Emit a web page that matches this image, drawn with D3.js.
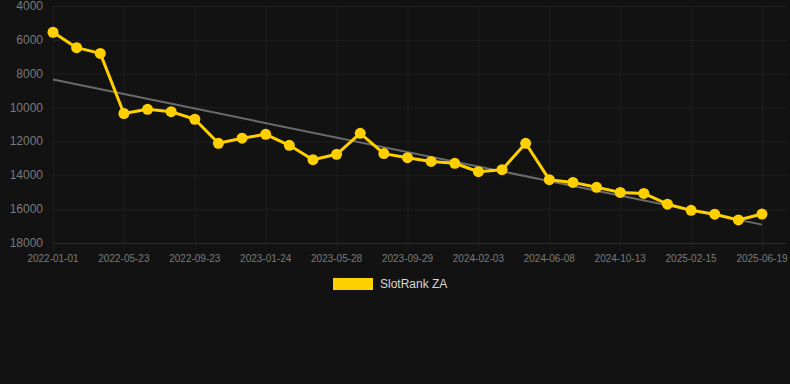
<!DOCTYPE html>
<html>
<head>
<meta charset="utf-8">
<script src="https://cdn.jsdelivr.net/npm/d3@7"></script>
<style>
  html, body { margin: 0; padding: 0; background: #121212; }
  svg { display: block; font-family: "Liberation Sans", Arial, sans-serif; }
</style>
</head>
<body>
<div id="chart"></div>
<script>
const width = 790, height = 384;

// data
const dates = [
    "2022-01-01", "2022-02-17", "2022-04-05", "2022-05-23", "2022-07-03", "2022-08-13",
    "2022-09-23", "2022-11-03", "2022-12-14", "2023-01-24", "2023-03-06", "2023-04-17",
    "2023-05-28", "2023-07-08", "2023-08-19", "2023-09-29", "2023-11-10", "2023-12-22",
    "2024-02-03", "2024-03-15", "2024-04-27", "2024-06-08", "2024-07-20", "2024-08-31",
    "2024-10-13", "2024-11-23", "2025-01-04", "2025-02-15", "2025-03-29", "2025-05-09",
    "2025-06-19"
];
const ranks = [
    5550, 6460, 6800, 10350, 10100, 10240, 10690, 12110, 11810, 11580, 12230, 13080,
    12760, 11520, 12720, 12960, 13180, 13290, 13790, 13670, 12110, 14260, 14420, 14710,
    15010, 15070, 15710, 16070, 16300, 16640, 16290
];
const yTicks = [4000, 6000, 8000, 10000, 12000, 14000, 16000, 18000];
const seriesName = "SlotRank ZA";

const margin = { top: 6, right: 28, bottom: 141, left: 53 };
const right = width - margin.right;   // last point
const bottom = height - margin.bottom;

const svg = d3.select("#chart")
    .append("svg")
    .attr("width", width)
    .attr("height", height);

const x = d3.scalePoint()
    .domain(dates)
    .range([margin.left, 762]);

const y = d3.scaleLinear()
    .domain([4000, 18000]) // rank, inverted: better rank on top
    .range([margin.top, bottom]);

// grid
svg.append("g")
    .selectAll("line")
    .data(yTicks)
    .enter()
    .append("line")
    .attr("x1", margin.left)
    .attr("x2", width - 4)
    .attr("y1", d => y(d) + 0.5)
    .attr("y2", d => y(d) + 0.5)
    .attr("stroke", d => d === 18000 ? "#2c2c2c" : "#1f1f1f");

const labelled = dates.filter((d, i) => i % 3 === 0);

svg.append("g")
    .selectAll("line")
    .data(labelled)
    .enter()
    .append("line")
    .attr("x1", d => x(d) + 0.5)
    .attr("x2", d => x(d) + 0.5)
    .attr("y1", margin.top)
    .attr("y2", bottom + 7)
    .attr("stroke", "#1f1f1f");

// y labels
svg.append("g")
    .selectAll("text")
    .data(yTicks)
    .enter()
    .append("text")
    .attr("x", 43)
    .attr("y", d => y(d) + 4)
    .attr("text-anchor", "end")
    .attr("font-size", 12)
    .attr("fill", "#7a7a7a")
    .text(d => d);

// x labels
svg.append("g")
    .selectAll("text")
    .data(labelled)
    .enter()
    .append("text")
    .attr("x", d => x(d))
    .attr("y", bottom + 19)
    .attr("text-anchor", "middle")
    .attr("font-size", 10)
    .attr("fill", "#7a7a7a")
    .text(d => d);

// trend line (least squares over the points)
const n = ranks.length;
const mx = d3.mean(ranks, (d, i) => i);
const my = d3.mean(ranks);
const slope = d3.sum(ranks, (d, i) => (i - mx) * (d - my)) / d3.sum(ranks, (d, i) => (i - mx) * (i - mx));
const icpt = my - slope * mx;

svg.append("line")
    .attr("x1", x(dates[0]))
    .attr("y1", y(icpt))
    .attr("x2", x(dates[n - 1]))
    .attr("y2", y(icpt + slope * (n - 1)))
    .attr("stroke", "#6b6b6b")
    .attr("stroke-width", 2);

// series
const line = d3.line()
    .x((d, i) => x(dates[i]))
    .y(d => y(d));

svg.append("path")
    .datum(ranks)
    .attr("d", line)
    .attr("fill", "none")
    .attr("stroke", "#ffd000")
    .attr("stroke-width", 3)
    .attr("stroke-linejoin", "round");

svg.selectAll("circle")
    .data(ranks)
    .enter()
    .append("circle")
    .attr("cx", (d, i) => x(dates[i]))
    .attr("cy", d => y(d))
    .attr("r", 5.5)
    .attr("fill", "#ffd000");

// legend
const legend = svg.append("g");
legend.append("rect")
    .attr("x", 333)
    .attr("y", 278)
    .attr("width", 40)
    .attr("height", 12)
    .attr("fill", "#ffd000");
legend.append("text")
    .attr("x", 380)
    .attr("y", 288)
    .attr("font-size", 12)
    .attr("fill", "#d8d8d8")
    .text(seriesName);
</script>
</body>
</html>
